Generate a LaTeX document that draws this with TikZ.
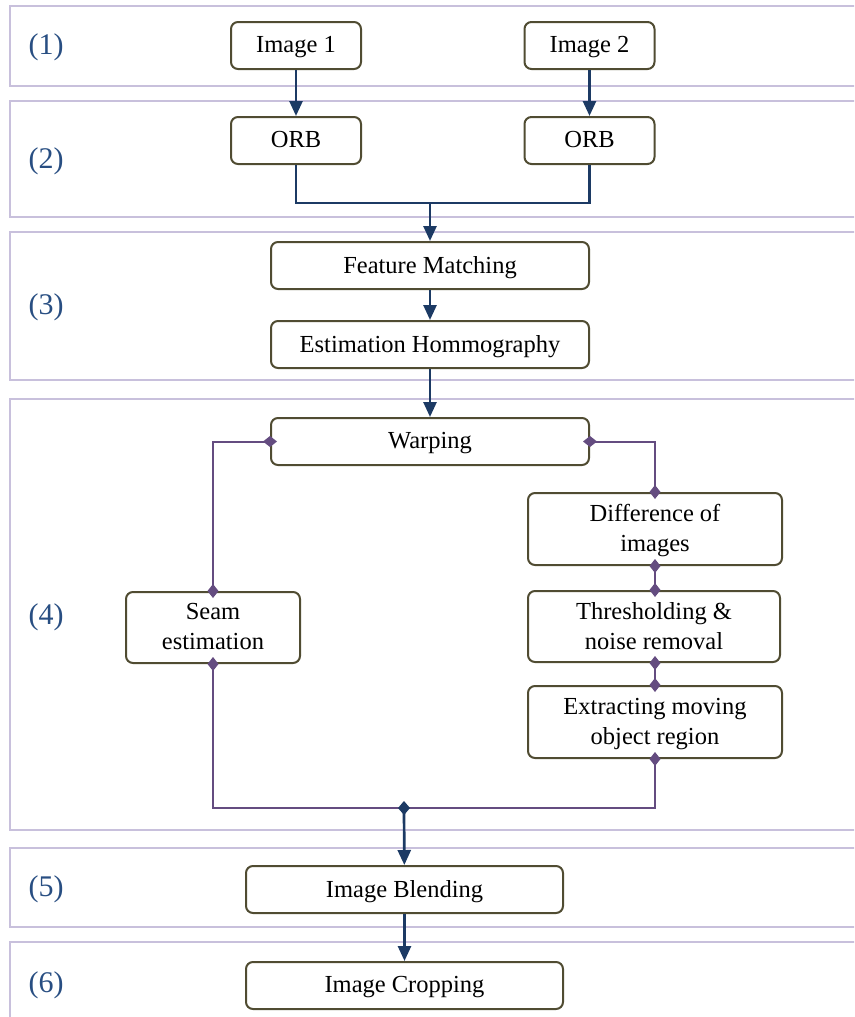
\documentclass[tikz,border=0pt]{standalone}
\usepackage{fontspec}
\setmainfont{Liberation Serif}
\usepackage{tikz}
\usetikzlibrary{arrows.meta}
\usepackage{xcolor}
\definecolor{panelline}{RGB}{200,192,220}
\definecolor{boxline}{RGB}{80,76,50}
\definecolor{flownavy}{RGB}{28,58,100}
\definecolor{linkpurple}{RGB}{100,76,128}
\definecolor{labelblue}{RGB}{40,78,130}

\begin{document}
\begin{tikzpicture}[x=1pt,y=-1pt,font=\fontsize{24.5}{30}\selectfont,
  panel/.style={draw=panelline,line width=1.4pt},
  stagelabel/.style={text=labelblue,font=\fontsize{30}{32}\selectfont},
  stepbox/.style={draw=boxline,line width=2pt,rounded corners=7pt,fill=white,
    align=center,inner sep=0pt,minimum height=47pt,text depth=2pt},
  flow/.style={flownavy,line width=2.7pt,-{Triangle[length=15pt,width=13pt]}},
  link/.style={linkpurple,line width=2pt,
    {Diamond[length=14pt,width=11pt]}-{Diamond[length=14pt,width=11pt]},
    shorten <=-7pt,shorten >=-7pt}]
\useasboundingbox (0,0) rectangle (854,1017);
\clip (0,0) rectangle (854,1017);
% Panels and stage numbers
\foreach \t/\b in {6/86,101/217,232/380,399/830,848/927,942/1040}
  \draw[panel] (10,\t) rectangle (880,\b);
\foreach \n/\y in {1/47,2/161,3/307,4/617,5/889,6/985}
  \node[stagelabel] (lab\n) at (46,\y) {(\n)};
% Stage 1-3
\node[stepbox,minimum width=130pt] (img1) at (296,45.5) {Image 1};
\node[stepbox,minimum width=130pt] (img2) at (589.5,45.5) {Image 2};
\node[stepbox,minimum width=130pt] (orb1) at (296,140.5) {ORB};
\node[stepbox,minimum width=130pt] (orb2) at (589.5,140.5) {ORB};
\node[stepbox,minimum width=318pt] (feat) at (430,265.5) {Feature Matching};
\node[stepbox,minimum width=318pt] (homo) at (430,344.5) {Estimation Hommography};
\coordinate (merge) at (430,203);
% Stage 4
\node[stepbox,minimum width=318pt] (warp) at (430,441.5) {Warping};
\node[stepbox,minimum width=174pt,minimum height=71pt] (seam) at (213,627.5) {Seam\\estimation};
\node[stepbox,minimum width=254pt,minimum height=72pt] (diff) at (655,529) {Difference of\\images};
\node[stepbox,minimum width=252pt,minimum height=71pt] (thr) at (654,626.5) {Thresholding \&\\noise removal};
\node[stepbox,minimum width=254pt,minimum height=72pt] (ext) at (655,722) {Extracting moving\\object region};
\coordinate (sum) at (404,808);
% Stage 5-6
\node[stepbox,minimum width=317pt] (blend) at (404.5,889.5) {Image Blending};
\node[stepbox,minimum width=317pt] (crop) at (404.5,985.5) {Image Cropping};
% Connectors
\draw[flow] (img1) -- (orb1);
\draw[flow] (img2) -- (orb2);
\draw[flownavy,line width=2.7pt] (orb1.south) |- (merge) -| (orb2.south);
\draw[flow] (merge) -- (feat);
\draw[flow] (feat) -- (homo);
\draw[flow] (homo) -- (warp);
\draw[link] (warp.west) -| (seam.north);
\draw[link] (warp.east) -| (diff.north);
\draw[link] (diff.south) -- (diff.south |- thr.north);
\draw[link] (thr.south -| ext.north) -- (ext.north);
\draw[link] (seam.south) |- (sum) -| (ext.south);
\draw[flow,{Diamond[length=14pt,width=12pt]}-{Triangle[length=15pt,width=13pt]},shorten <=-7pt] (sum) -- (blend);
\draw[flow] (blend) -- (crop);
\end{tikzpicture}
\end{document}
